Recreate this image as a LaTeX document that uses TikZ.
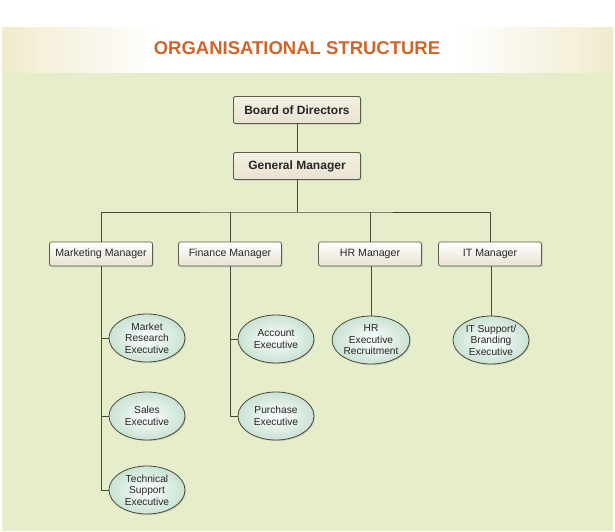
\documentclass[tikz,border=0pt]{standalone}
\usepackage{fontspec}
\setmainfont{Liberation Sans}
\usetikzlibrary{shapes.geometric,shadows}
\definecolor{bggreen}{HTML}{E6EDCB}
\definecolor{gold}{HTML}{DDD08A}
\definecolor{titleor}{HTML}{D2642A}
\definecolor{boxfill}{HTML}{E8E2D0}
\definecolor{boxfill2}{HTML}{F4F1E4}
\definecolor{ellfill}{HTML}{C9E2D3}
\definecolor{linec}{HTML}{4A4A3A}
\pgfdeclarehorizontalshading{banner}{100bp}{color(0bp)=(gold); color(12bp)=(gold!85!white); color(38bp)=(white); color(62bp)=(white); color(88bp)=(gold!85!white); color(100bp)=(gold)}
\begin{document}
\begin{tikzpicture}[x=1pt,y=-1pt,
  topbox/.style={draw=linec!90,line width=0.9pt,rounded corners=2pt,minimum width=127pt,minimum height=27pt,
    top color=boxfill2,bottom color=boxfill,font=\fontsize{12}{14}\selectfont\bfseries,text=black!85,
    drop shadow={shadow xshift=1pt,shadow yshift=-1pt,opacity=0.3}},
  mgrbox/.style={draw=linec!90,line width=0.7pt,rounded corners=2pt,minimum width=103pt,minimum height=24pt,
    top color=white,bottom color=boxfill,font=\fontsize{10.6}{12}\selectfont,text=black!85,
    drop shadow={shadow xshift=1pt,shadow yshift=-1pt,opacity=0.3}},
  exec/.style={ellipse,draw=linec,line width=0.8pt,minimum width=76pt,minimum height=48pt,inner sep=0pt,
    inner color=white,outer color=ellfill,align=center,font=\fontsize{10.2}{11.5}\selectfont,text=black!85,
    drop shadow={shadow xshift=1pt,shadow yshift=-1pt,opacity=0.3}},
  conn/.style={draw=linec,line width=0.9pt}]
\useasboundingbox (0,0) rectangle (615,531);
\fill[white] (0,0) rectangle (615,531);
\fill[bggreen] (2,71.5) rectangle (613,531);
\shade[shading=banner] (2,27) rectangle (613,72);
\node[font=\fontsize{18.5}{21}\selectfont\bfseries,text=titleor] (title) at (297,48) {ORGANISATIONAL STRUCTURE};

\node[topbox] (bod) at (297,110) {Board of Directors};
\node[topbox] (gm) at (297,166) {General Manager};
\node[mgrbox] (mm) at (101,254) {Marketing Manager};
\node[mgrbox] (fm) at (230,254) {Finance Manager};
\node[mgrbox] (hm) at (370,254) {HR Manager};
\node[mgrbox] (im) at (490,254) {IT Manager};

\node[exec] (mr) at (147,338) {Market\\Research\\Executive};
\node[exec] (se) at (147,416) {Sales\\Executive};
\node[exec] (ts) at (147,490) {Technical\\Support\\Executive};
\node[exec] (ae) at (276,339) {Account\\Executive};
\node[exec] (pe) at (276,416) {Purchase\\Executive};
\node[exec] (hr) at (371,340) {HR\\Executive\\Recruitment};
\node[exec] (it) at (491,340) {IT Support/\\Branding\\Executive};

\coordinate (bar) at (297,212);
\begin{scope}[on background layer/.try]
\draw[conn] (bod) -- (gm);
\draw[conn] (gm) -- (bar);
\draw[conn] (mm.north) |- (bar) -| (im.north);
\draw[conn] (fm.north) -- (fm.north |- bar);
\draw[conn] (hm.north) -- (hm.north |- bar);
\draw[conn] (mm.south) |- (mr.west);
\draw[conn] (mm.south) |- (se.west);
\draw[conn] (mm.south) |- (ts.west);
\draw[conn] (fm.south) |- (ae.west);
\draw[conn] (fm.south) |- (pe.west);
\draw[conn] (hm.south -| hr.north) -- (hr.north);
\draw[conn] (im.south -| it.north) -- (it.north);
\end{scope}
\end{tikzpicture}
\end{document}
